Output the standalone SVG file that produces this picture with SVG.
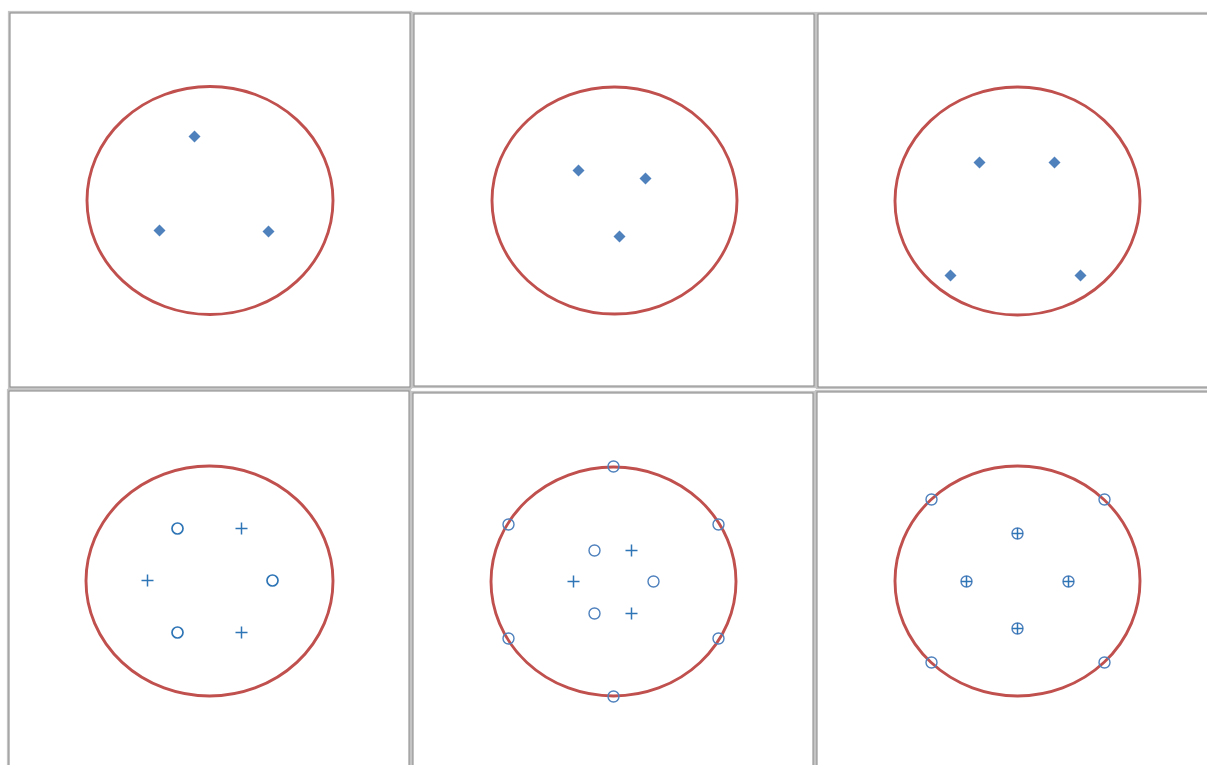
<svg xmlns="http://www.w3.org/2000/svg" width="1207" height="765" viewBox="0 0 1207 765">
<style>
.frame{fill:#fff;stroke:#c4c4c4;stroke-width:2.2}
.frame2{fill:none;stroke:#8a8a8a;stroke-width:1}
.ell{fill:none;stroke:#c0504d;stroke-width:2.9}
.dia{fill:#4f81bd}
.o1{fill:none;stroke:#2e75b6;stroke-width:1.7}
.o2{fill:none;stroke:#4f81bd;stroke-width:1.4}
.pl{stroke:#2e75b6;stroke-width:1.5;fill:none}
</style>
<defs>
<path id="d" class="dia" d="M0,-6 L6,0 L0,6 L-6,0 Z"/>
<path id="p" class="pl" d="M-6,0 H6 M0,-6 V6"/>
<circle id="c1" class="o1" r="5.5"/>
<circle id="c2" class="o2" r="5.5"/>
<g id="cp"><circle class="o2" r="5.5"/><path class="pl" d="M-5.5,0 H5.5 M0,-5.5 V5.5"/></g>
</defs>
<rect width="1207" height="765" fill="#fff"/>
<g id="panel1">
<rect class="frame" x="9" y="12" width="402" height="376"/><rect class="frame2" x="10" y="13" width="400" height="374"/>
<ellipse class="ell" cx="210" cy="200.5" rx="123" ry="114"/>
<use href="#d" x="194.5" y="136.5"/><use href="#d" x="159.5" y="230.5"/><use href="#d" x="268.5" y="231.5"/>
</g>
<g id="panel2">
<rect class="frame" x="413" y="13" width="402" height="374"/><rect class="frame2" x="414" y="14" width="400" height="372"/>
<ellipse class="ell" cx="614.5" cy="200.5" rx="122.5" ry="113.5"/>
<use href="#d" x="578.5" y="170.5"/><use href="#d" x="645.5" y="178.5"/><use href="#d" x="619.5" y="236.5"/>
</g>
<g id="panel3">
<rect class="frame" x="817" y="13" width="395" height="375"/><rect class="frame2" x="818" y="14" width="393" height="373"/>
<ellipse class="ell" cx="1017.5" cy="201" rx="122.5" ry="114"/>
<use href="#d" x="979.5" y="162.5"/><use href="#d" x="1054.5" y="162.5"/><use href="#d" x="950.5" y="275.5"/><use href="#d" x="1080.5" y="275.5"/>
</g>
<g id="panel4">
<rect class="frame" x="8" y="390" width="402" height="380"/><rect class="frame2" x="9" y="391" width="400" height="378"/>
<ellipse class="ell" cx="209.5" cy="581" rx="123.5" ry="115"/>
<use href="#c1" x="177.5" y="528.5"/><use href="#c1" x="272.5" y="580.5"/><use href="#c1" x="177.5" y="632.5"/>
<use href="#p" x="241.5" y="528.5"/><use href="#p" x="147.5" y="580.5"/><use href="#p" x="241.5" y="632.5"/>
</g>
<g id="panel5">
<rect class="frame" x="412" y="392" width="402" height="378"/><rect class="frame2" x="413" y="393" width="400" height="376"/>
<ellipse class="ell" cx="613.5" cy="581.5" rx="122.5" ry="114.5"/>
<use href="#c2" x="613.5" y="466.5"/><use href="#c2" x="508.5" y="524.5"/><use href="#c2" x="718.5" y="524.5"/><use href="#c2" x="508.5" y="638.5"/><use href="#c2" x="718.5" y="638.5"/><use href="#c2" x="613.5" y="696.5"/>
<use href="#c2" x="594.5" y="550.5"/><use href="#c2" x="653.5" y="581.5"/><use href="#c2" x="594.5" y="613.5"/>
<use href="#p" x="631.5" y="550.5"/><use href="#p" x="573.5" y="581.5"/><use href="#p" x="631.5" y="613.5"/>
</g>
<g id="panel6">
<rect class="frame" x="816" y="391" width="396" height="379"/><rect class="frame2" x="817" y="392" width="394" height="377"/>
<ellipse class="ell" cx="1017.5" cy="581" rx="122.5" ry="115"/>
<use href="#c2" x="931.5" y="499.5"/><use href="#c2" x="1104.5" y="499.5"/><use href="#c2" x="931.5" y="662.5"/><use href="#c2" x="1104.5" y="662.5"/>
<use href="#cp" x="1017.5" y="533.5"/><use href="#cp" x="966.5" y="581.5"/><use href="#cp" x="1068.5" y="581.5"/><use href="#cp" x="1017.5" y="628.5"/>
</g>
<g id="connectors"></g>
</svg>
